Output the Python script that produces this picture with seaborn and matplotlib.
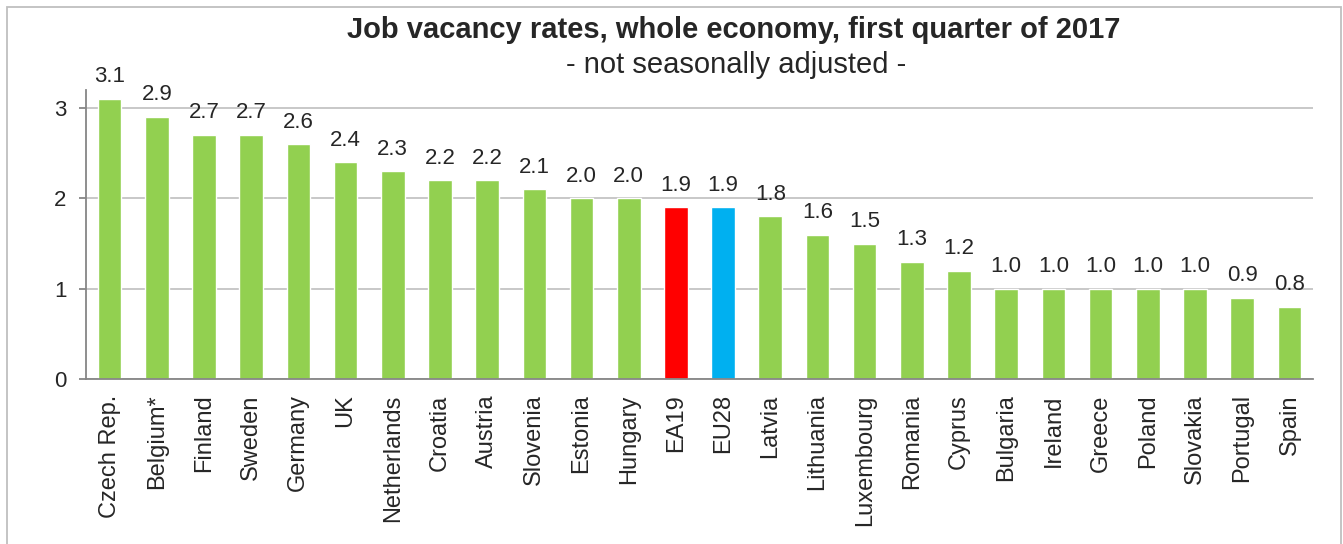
import matplotlib
matplotlib.use('Agg')
import matplotlib.pyplot as plt
import matplotlib.patches as mpatches
import pandas as pd
import seaborn as sns
import numpy as np

countries = ['Czech Rep.', 'Belgium*', 'Finland', 'Sweden', 'Germany', 'UK',
             'Netherlands', 'Croatia', 'Austria', 'Slovenia', 'Estonia', 'Hungary',
             'EA19', 'EU28', 'Latvia', 'Lithuania', 'Luxembourg', 'Romania',
             'Cyprus', 'Bulgaria', 'Ireland', 'Greece', 'Poland', 'Slovakia',
             'Portugal', 'Spain']
rates = [3.1, 2.9, 2.7, 2.7, 2.6, 2.4, 2.3, 2.2, 2.2, 2.1, 2.0, 2.0,
         1.9, 1.9, 1.8, 1.6, 1.5, 1.3, 1.2, 1.0, 1.0, 1.0, 1.0, 1.0,
         0.9, 0.8]

green = '#92D050'
bar_colors = {c: green for c in countries}
bar_colors['EA19'] = '#FF0000'
bar_colors['EU28'] = '#00B0F0'

sns.set_style('white')
plt.rcParams['font.family'] = ['Liberation Sans', 'DejaVu Sans']

df = pd.DataFrame({'country': countries, 'rate': rates})

fig = plt.figure(figsize=(13.43, 5.44), dpi=100)
ax = fig.add_axes([86/1343, 1 - 379/544, (1313 - 86)/1343, (379 - 90)/544])

sns.barplot(data=df, x='country', y='rate', hue='country', palette=bar_colors,
            width=0.5, legend=False, ax=ax, saturation=1)

ax.set_ylim(0, 3.2)
ax.set_xlim(-0.5, len(countries) - 0.5)
ax.set_yticks([0, 1, 2, 3])
ax.yaxis.grid(True, color='#BFBFBF', linewidth=1.2)
ax.set_axisbelow(True)

for s in ['top', 'right']:
    ax.spines[s].set_visible(False)
for s in ['left', 'bottom']:
    ax.spines[s].set_color('#868686')
    ax.spines[s].set_linewidth(1.3)

ax.set_xticks(np.arange(len(countries)))
ax.set_xticklabels(countries, rotation=90, fontsize=17)
ax.set_xticks(np.arange(-0.5, len(countries), 1), minor=True)
ax.tick_params(axis='x', which='major', length=0, pad=11)
ax.tick_params(axis='x', which='minor', length=5, width=1.3, color='#868686', direction='out')
ax.tick_params(axis='y', length=5, width=1.3, color='#868686', direction='out',
               labelsize=16, pad=9, left=True)
ax.set_xlabel(None)
ax.set_ylabel(None)

for i, v in enumerate(rates):
    ax.annotate(f'{v:.1f}', (i, v), xytext=(0, 12), textcoords='offset points',
                ha='center', va='baseline', fontsize=16)

fig.text(734/1343, 1 - 38/544, 'Job vacancy rates, whole economy, first quarter of 2017',
         ha='center', va='baseline', fontsize=21, fontweight='bold')
fig.text(736/1343, 1 - 73/544, '- not seasonally adjusted -',
         ha='center', va='baseline', fontsize=21)

fig.patches.append(mpatches.Rectangle((7/1343, -0.05), (1341 - 7)/1343, 1.05 - 7/544,
                                      transform=fig.transFigure, fill=False,
                                      edgecolor='#BFBFBF', linewidth=1.3))

fig.savefig('out.png', dpi=100)
